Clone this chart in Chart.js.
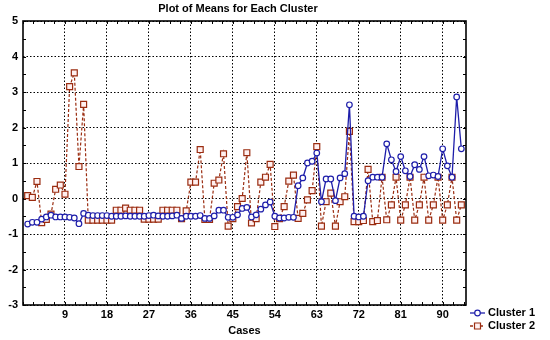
<!DOCTYPE html>
<html>
<head>
<meta charset="utf-8">
<script src="https://cdn.jsdelivr.net/npm/chart.js@4/dist/chart.umd.min.js"></script>
<style>
  html, body { margin: 0; padding: 0; background: #fff; }
  #wrap { width: 550px; height: 340px; position: relative; }
</style>
</head>
<body>
<div id="wrap"><canvas id="c"></canvas></div>
<script>
// ---- Data ----
const chartTitle = 'Plot of Means for Each Cluster';
const xAxisTitle = 'Cases';
const seriesNames = ['Cluster 1', 'Cluster 2'];

const cases = [
  1,2,3,4,5,6,7,8,9,10,11,12,13,14,15,16,17,18,19,20,
  21,22,23,24,25,26,27,28,29,30,31,32,33,34,35,36,37,38,39,40,
  41,42,43,44,45,46,47,48,49,50,51,52,53,54,55,56,57,58,59,60,
  61,62,63,64,65,66,67,68,69,70,71,72,73,74,75,76,77,78,79,80,
  81,82,83,84,85,86,87,88,89,90,91,92,93,94
];

const cluster1 = [
  -0.72,-0.67,-0.67,-0.58,-0.52,-0.47,-0.52,-0.52,-0.52,-0.53,
  -0.55,-0.71,-0.42,-0.47,-0.48,-0.48,-0.48,-0.48,-0.50,-0.50,
  -0.50,-0.49,-0.50,-0.50,-0.50,-0.50,-0.48,-0.47,-0.49,-0.50,
  -0.50,-0.49,-0.47,-0.56,-0.50,-0.50,-0.50,-0.48,-0.56,-0.56,
  -0.49,-0.33,-0.33,-0.53,-0.53,-0.46,-0.28,-0.25,-0.52,-0.46,
  -0.30,-0.18,-0.10,-0.50,-0.55,-0.55,-0.53,-0.53, 0.36, 0.58,
   1.00, 1.05, 1.28,-0.09, 0.55, 0.55,-0.06, 0.58, 0.70, 2.64,
  -0.50,-0.52,-0.50, 0.50, 0.60, 0.60, 0.60, 1.54, 1.09, 0.76,
   1.18, 0.78, 0.62, 0.95, 0.82, 1.18, 0.64, 0.66, 0.62, 1.40,
   0.92, 0.60, 2.86, 1.40
];

const cluster2 = [
   0.08, 0.03, 0.48,-0.68,-0.59,-0.44, 0.26, 0.38, 0.12, 3.15,
   3.54, 0.90, 2.65,-0.61,-0.61,-0.61,-0.61,-0.61,-0.61,-0.33,
  -0.33,-0.27,-0.33,-0.33,-0.33,-0.58,-0.58,-0.58,-0.58,-0.33,
  -0.33,-0.33,-0.33,-0.57,-0.35, 0.46, 0.46, 1.38,-0.59,-0.59,
   0.43, 0.52, 1.26,-0.78,-0.57,-0.23, 0.00, 1.29,-0.69,-0.57,
   0.46, 0.60, 0.96,-0.79,-0.57,-0.23, 0.49, 0.66,-0.56,-0.42,
  -0.04, 0.22, 1.46,-0.78,-0.09, 0.15,-0.78,-0.09, 0.05, 1.89,
  -0.65,-0.65,-0.62, 0.82,-0.65,-0.62, 0.60,-0.60,-0.18, 0.60,
  -0.61,-0.18, 0.60,-0.61,-0.18, 0.60,-0.61,-0.18, 0.60,-0.61,
  -0.18, 0.60,-0.61,-0.18
];

const xTickValues = [9, 18, 27, 36, 45, 54, 63, 72, 81, 90];
const yTickValues = [-3, -2, -1, 0, 1, 2, 3, 4, 5];
const xRange = [0, 95];
const yRange = [-3, 5];

// ---- Style ----
const BLUE = '#1e1eaa';
const RED = '#9a2c10';
const FONT = '"Liberation Sans", Arial, sans-serif';

const toPoints = (vals) => cases.map((c, i) => ({ x: c, y: vals[i] }));

const framePlugin = {
  id: 'frame',
  beforeDatasetsDraw(chart) {
    const { ctx, chartArea: a, scales: { x, y } } = chart;
    ctx.save();
    ctx.strokeStyle = '#000';
    ctx.lineWidth = 1;
    ctx.beginPath();
    for (let v = yRange[0]; v <= yRange[1] + 1e-9; v += 0.5) {
      const py = Math.round(y.getPixelForValue(v)) + 0.5;
      ctx.moveTo(a.left, py); ctx.lineTo(a.left + 3, py);
      ctx.moveTo(a.right, py); ctx.lineTo(a.right - 3, py);
    }
    for (let v = xRange[0]; v <= xRange[1] + 1e-9; v += 2.25) {
      const px = Math.round(x.getPixelForValue(v)) + 0.5;
      ctx.moveTo(px, a.top); ctx.lineTo(px, a.top + 3);
      ctx.moveTo(px, a.bottom); ctx.lineTo(px, a.bottom - 3);
    }
    ctx.stroke();
    ctx.lineWidth = 1.6;
    ctx.strokeRect(a.left, a.top, a.right - a.left, a.bottom - a.top);
    ctx.restore();
  },
  afterDraw(chart) {
    const { ctx, chartArea: a } = chart;
    ctx.save();
    // title
    ctx.fillStyle = '#000';
    ctx.font = 'bold 11px ' + FONT;
    ctx.textAlign = 'center';
    ctx.textBaseline = 'middle';
    ctx.fillText(chartTitle, 238, 9);
    // legend
    const rows = [
      { name: seriesNames[0], color: BLUE, dash: [], style: 'circle', y: 313 },
      { name: seriesNames[1], color: RED, dash: [3, 2], style: 'rect', y: 326 }
    ];
    rows.forEach(r => {
      ctx.strokeStyle = r.color;
      ctx.lineWidth = 1.3;
      ctx.setLineDash(r.dash);
      ctx.beginPath();
      ctx.moveTo(470, r.y); ctx.lineTo(485, r.y);
      ctx.stroke();
      ctx.setLineDash([]);
      ctx.lineWidth = 1.2;
      ctx.fillStyle = r.style === 'circle' ? '#fff' : '#fff0f0';
      ctx.beginPath();
      if (r.style === 'circle') ctx.arc(477.5, r.y, 2.8, 0, Math.PI * 2);
      else ctx.rect(474.5, r.y - 3, 6, 6);
      ctx.fill(); ctx.stroke();
      ctx.fillStyle = '#000';
      ctx.font = 'bold 11px ' + FONT;
      ctx.textAlign = 'left';
      ctx.textBaseline = 'middle';
      ctx.fillText(r.name, 488, r.y);
    });
    ctx.restore();
  }
};

new Chart(document.getElementById('c'), {
  type: 'line',
  data: {
    datasets: [
      {
        label: seriesNames[0],
        data: toPoints(cluster1),
        borderColor: BLUE,
        borderWidth: 1.3,
        pointStyle: 'circle',
        pointRadius: 2.8,
        pointBorderWidth: 1.2,
        pointBackgroundColor: '#fff',
        pointBorderColor: BLUE,
        tension: 0,
        fill: false
      },
      {
        label: seriesNames[1],
        data: toPoints(cluster2),
        borderColor: RED,
        borderWidth: 1.2,
        borderDash: [3, 2],
        pointStyle: 'rect',
        pointRadius: 4.2,
        pointBorderWidth: 1.2,
        pointBackgroundColor: '#fff0f0',
        pointBorderColor: RED,
        tension: 0,
        fill: false
      }
    ]
  },
  options: {
    responsive: true,
    maintainAspectRatio: false,
    animation: false,
    events: [],
    layout: { padding: { top: 21, right: 84, left: 0, bottom: 0 } },
    plugins: { legend: { display: false }, title: { display: false }, tooltip: { enabled: false } },
    scales: {
      x: {
        type: 'linear',
        min: xRange[0],
        max: xRange[1],
        afterBuildTicks: (s) => { s.ticks = xTickValues.map(v => ({ value: v })); },
        afterFit: (s) => { s.height = 35; },
        ticks: { color: '#000', font: { family: FONT, size: 11, weight: 'bold' }, padding: 3, maxRotation: 0, autoSkip: false },
        grid: { color: '#000', lineWidth: 1, drawTicks: false },
        border: { display: false, dash: [1.5, 2] },
        title: { display: true, text: xAxisTitle, color: '#000', font: { family: FONT, size: 11, weight: 'bold' }, padding: { top: 2, bottom: 2 } }
      },
      y: {
        type: 'linear',
        min: yRange[0],
        max: yRange[1],
        afterBuildTicks: (s) => { s.ticks = yTickValues.map(v => ({ value: v })); },
        afterFit: (s) => { s.width = 23; },
        ticks: { color: '#000', font: { family: FONT, size: 11, weight: 'bold' }, padding: 5 },
        grid: { color: '#000', lineWidth: 1, drawTicks: false },
        border: { display: false, dash: [1.5, 2] }
      }
    }
  },
  plugins: [framePlugin]
});
</script>
</body>
</html>
